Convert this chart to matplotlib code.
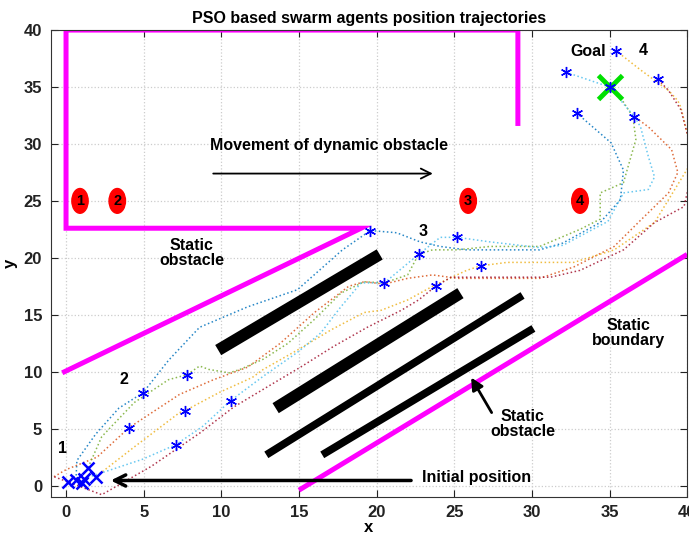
import numpy as np
import matplotlib
matplotlib.use('Agg')
import matplotlib.pyplot as plt

plt.rcParams['font.family'] = ['Liberation Sans Narrow', 'Liberation Sans', 'DejaVu Sans']
plt.rcParams['font.weight'] = 'bold'

# agent trajectories (x, y)
traj_blue_x = [0.64, 0.7, 1.9, 3.4, 4.96, 6.6, 8.6, 11.7, 14.9, 17.8, 19.6, 21.3, 22.8, 24.1, 25.8, 30.5, 32.0, 34.4, 35.7, 35.9, 35.1, 32.9]
traj_blue_y = [0.53, 2.2, 4.5, 6.8, 8.16, 11.0, 13.9, 15.7, 17.2, 20.7, 22.4, 22.2, 21.4, 21.0, 20.7, 20.7, 21.3, 23.1, 25.1, 27.7, 30.1, 32.7]

traj_orange_x = [-1.0, 0.0, 2.0, 4.06, 7.3, 9.5, 11.7, 13.8, 16.0, 18.2, 19.2, 20.5, 22.0, 23.6, 25.2, 27.3, 30.5, 32.7, 35.3, 37.0, 38.8, 39.4, 39.0, 37.5, 36.6]
traj_orange_y = [0.6, 1.4, 2.5, 5.09, 8.0, 9.3, 10.4, 12.5, 15.2, 17.5, 17.9, 17.7, 18.2, 18.5, 18.2, 18.2, 18.2, 19.2, 21.0, 23.3, 25.7, 27.5, 29.5, 31.5, 32.4]

traj_yellow_x = [1.93, 4.4, 7.3, 7.66, 9.9, 12.0, 12.7, 14.9, 17.1, 19.2, 20.3, 22.0, 23.6, 25.8, 26.7, 28.4, 30.5, 32.7, 35.3, 37.9, 39.2, 40.1, 40.1, 39.6, 39.4, 38.8, 37.0, 35.4]
traj_yellow_y = [0.79, 3.4, 6.4, 6.58, 8.2, 9.5, 10.2, 11.9, 13.7, 15.2, 15.4, 16.3, 17.5, 18.9, 19.3, 19.6, 19.6, 19.6, 20.7, 23.1, 26.0, 28.0, 30.4, 33.2, 33.8, 34.7, 36.5, 38.2]

traj_green_x = [1.42, 2.3, 4.4, 6.6, 7.79, 8.6, 9.2, 10.5, 11.2, 12.7, 14.3, 16.0, 17.7, 19.2, 20.5, 22.0, 22.7, 23.6, 25.2, 27.3, 30.5, 33.1, 34.4, 34.4, 35.9, 36.7, 36.5, 35.7, 35.0]
traj_green_y = [1.58, 4.3, 7.3, 9.3, 9.74, 10.5, 10.2, 9.9, 10.2, 11.1, 12.5, 14.6, 16.9, 17.9, 17.8, 18.5, 20.3, 20.7, 20.7, 21.0, 21.0, 22.5, 23.4, 25.7, 26.6, 30.4, 32.4, 34.1, 35.0]

traj_lblue_x = [1.16, 4.9, 7.08, 8.8, 10.6, 12.7, 14.9, 16.4, 17.7, 19.0, 20.5, 22.7, 24.1, 25.2, 27.3, 30.5, 32.0, 34.2, 34.9, 35.9, 37.5, 37.9, 37.5, 37.0, 36.6, 35.0, 32.2]
traj_lblue_y = [0.61, 2.3, 3.6, 5.2, 7.46, 9.6, 11.7, 13.4, 15.7, 17.8, 17.8, 20.3, 21.8, 21.8, 21.4, 20.9, 21.1, 22.7, 23.2, 25.7, 26.0, 27.1, 28.9, 31.5, 32.4, 35.0, 36.3]

traj_red_x = [-1.0, 2.3, 5.5, 8.6, 10.8, 13.0, 15.1, 17.2, 19.4, 21.6, 22.7, 23.8, 24.8, 28.0, 31.2, 33.1, 35.9, 37.9, 39.8, 40.3, 40.1, 39.6, 38.8, 38.1]
traj_red_y = [0.9, -0.8, 1.7, 4.6, 6.9, 8.7, 10.4, 12.2, 13.9, 15.4, 16.3, 17.5, 18.3, 18.3, 18.3, 18.9, 20.7, 23.1, 24.5, 27.5, 30.4, 33.0, 34.7, 35.7]

# initial positions and intermediate positions
start_x = [0.13, 0.64, 1.03, 1.16, 1.42, 1.93]
start_y = [0.35, 0.53, 0.26, 0.61, 1.58, 0.79]
step_x = [4.96, 4.06, 7.79, 7.66, 7.08, 10.6, 19.6, 20.5, 22.7, 23.8, 25.2, 26.7,
          35.4, 32.2, 32.9, 35.0, 36.6, 38.1]
step_y = [8.16, 5.09, 9.74, 6.58, 3.6, 7.46, 22.4, 17.8, 20.3, 17.5, 21.8, 19.3,
          38.2, 36.3, 32.7, 35.0, 32.4, 35.7]
goal = (35, 35)

# static obstacle / boundary geometry
wall_x = [29.1, 29.1, 0, 0, 19.0, -0.1]
wall_y = [31.8, 40, 40, 22.6, 22.6, 10.0]
boundary_x = [15.0, 40.0]
boundary_y = [-0.4, 20.3]
bars = [([9.8, 20.2], [11.9, 20.3], 8.5),
        ([13.5, 25.4], [6.8, 16.9], 8.5),
        ([12.9, 29.4], [2.7, 16.7], 5.5),
        ([16.5, 30.1], [2.7, 13.8], 5.5)]

# dynamic obstacle positions
dyn_x = [0.9, 3.3, 25.9, 33.1]
dyn_y = [25.0, 25.0, 25.0, 25.0]
dyn_labels = ['1', '2', '3', '4']

fig = plt.figure(figsize=(6.89, 5.37), dpi=100)
ax = fig.add_axes([0.0733, 0.0745, 0.924, 0.8695])

trajs = [(traj_blue_x, traj_blue_y, (0, 0.447, 0.741)),
         (traj_orange_x, traj_orange_y, (0.85, 0.325, 0.098)),
         (traj_yellow_x, traj_yellow_y, (0.929, 0.694, 0.125)),
         (traj_green_x, traj_green_y, (0.466, 0.674, 0.188)),
         (traj_lblue_x, traj_lblue_y, (0.301, 0.745, 0.933)),
         (traj_red_x, traj_red_y, (0.635, 0.078, 0.184))]
for tx, ty, c in trajs:
    ax.plot(tx, ty, ':', color=c, lw=1.1, alpha=0.85)

ax.plot(wall_x, wall_y, color='#ff00ff', lw=3.6, solid_joinstyle='miter')
ax.plot(boundary_x, boundary_y, color='#ff00ff', lw=3.6, solid_capstyle='butt')
for bx, by, w in bars:
    ax.plot(bx, by, color='black', lw=w, solid_capstyle='butt')

ax.plot(start_x, start_y, 'x', color='blue', ms=8, mew=1.8, ls='none')
ax.plot(goal[0], goal[1], 'x', color='#00e000', ms=17, mew=3.5)
ax.plot(step_x, step_y, marker=(6, 2, 0), color='blue', ms=8, mew=1.0, ls='none')

for dx, dy, lab in zip(dyn_x, dyn_y, dyn_labels):
    ax.text(dx, dy, lab, ha='center', va='center', fontsize=10.5, fontweight='bold',
            bbox=dict(boxstyle='ellipse,pad=0.12', fc='red', ec='red'))

# annotations
fs = 11.5
ax.text(9.3, 29.9, 'Movement of dynamic obstacle', fontsize=fs, fontweight='bold', va='center')
ax.annotate('', xy=(23.8, 27.4), xytext=(9.3, 27.4),
            arrowprops=dict(arrowstyle='->', lw=1.3, color='black', mutation_scale=18))
ax.text(8.1, 20.4, 'Static\nobstacle', fontsize=fs, fontweight='bold', ha='center', va='center',
        linespacing=1.0)
ax.text(36.2, 13.4, 'Static\nboundary', fontsize=fs, fontweight='bold', ha='center', va='center',
        linespacing=1.0)
ax.text(29.4, 5.4, 'Static\nobstacle', fontsize=fs, fontweight='bold', ha='center', va='center',
        linespacing=1.0)
ax.annotate('', xy=(26.0, 9.7), xytext=(27.5, 6.2),
            arrowprops=dict(arrowstyle='-|>', lw=2.0, color='black', mutation_scale=18))
ax.text(22.9, 0.7, 'Initial position', fontsize=fs, fontweight='bold', va='center')
ax.annotate('', xy=(2.7, 0.45), xytext=(22.4, 0.45),
            arrowprops=dict(arrowstyle='->', lw=2.5, color='black', mutation_scale=20))
ax.text(33.6, 38.1, 'Goal', fontsize=fs, fontweight='bold', ha='center', va='center')
ax.text(37.2, 38.2, '4', fontsize=fs, fontweight='bold', ha='center', va='center')
ax.text(-0.25, 3.3, '1', fontsize=fs, fontweight='bold', ha='center', va='center')
ax.text(3.7, 9.3, '2', fontsize=fs, fontweight='bold', ha='center', va='center')
ax.text(23.0, 22.3, '3', fontsize=fs, fontweight='bold', ha='center', va='center')

ax.set_xlim(-1, 40)
ax.set_ylim(-1, 40)
ax.set_xticks(np.arange(0, 41, 5))
ax.set_yticks(np.arange(0, 41, 5))
ax.tick_params(direction='in', top=True, right=True, length=5, labelsize=12,
               colors='#222222', pad=6)
for lab in ax.get_xticklabels() + ax.get_yticklabels():
    lab.set_fontweight('bold')
ax.grid(True, linestyle=':', color='#cccccc', lw=0.9)
ax.set_title('PSO based swarm agents position trajectories', fontsize=fs, fontweight='bold', pad=5)
ax.set_xlabel('x', fontsize=12, fontweight='bold', labelpad=0)
ax.set_ylabel('y', fontsize=12, fontweight='bold')
ax.yaxis.set_label_coords(-0.051, 0.5)
for s in ax.spines.values():
    s.set_color('#333333')

fig.savefig('out.png', dpi=100)
